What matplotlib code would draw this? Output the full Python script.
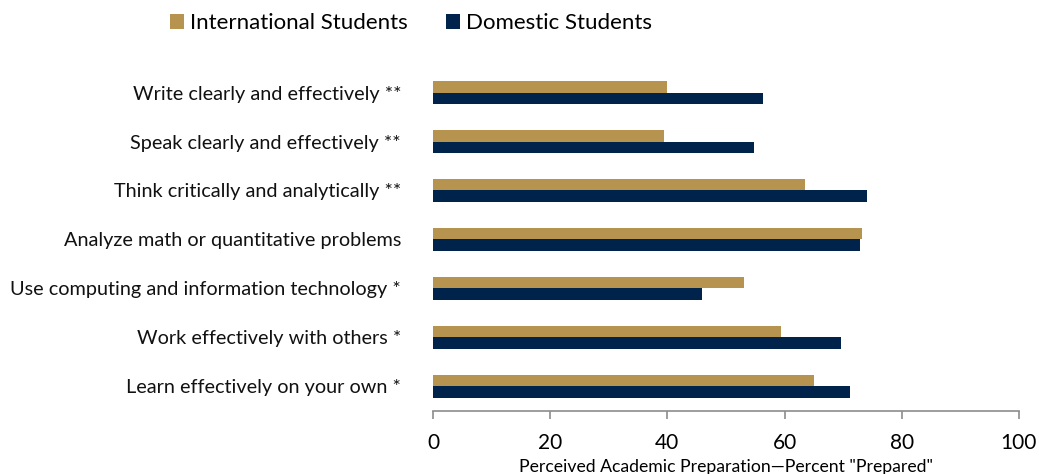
import matplotlib
matplotlib.use("Agg")
from matplotlib import pyplot as plt
import numpy as np

plt.rcParams['font.family'] = ['Lato', 'DejaVu Sans']

# categories listed top to bottom
skills = ["Write clearly and effectively **",
          "Speak clearly and effectively **",
          "Think critically and analytically **",
          "Analyze math or quantitative problems",
          "Use computing and information technology *",
          "Work effectively with others *",
          "Learn effectively on your own *"]
international = [40.0, 39.4, 63.5, 73.2, 53.0, 59.4, 65.1]
domestic = [56.3, 54.8, 74.1, 72.9, 45.9, 69.7, 71.1]
xticks = [0, 20, 40, 60, 80, 100]

gold = "#b79350"
navy = "#00234b"

fig = plt.figure(figsize=(10.39, 4.74), dpi=100)
ax = fig.add_axes([0.4167, 0.133, 0.5640, 0.7235])

y = np.arange(len(skills))[::-1]
h = 0.235
ax.barh(y + h/2, international, height=h, color=gold, label="International Students")
ax.barh(y - h/2, domestic, height=h, color=navy, label="Domestic Students")

ax.set_xlim(0, 100)
ax.set_ylim(-0.5, len(skills) - 0.5)
ax.set_yticks(y)
ax.set_yticklabels(skills, fontsize=14.3, color="#111111")
ax.tick_params(axis="y", length=0, pad=23)
ax.set_xticks(xticks)
ax.tick_params(axis="x", labelsize=15, length=6, width=1.2, color="#8c8c8c", pad=10)

for s in ["top", "right", "left"]:
    ax.spines[s].set_visible(False)
ax.spines["bottom"].set_color("#8c8c8c")
ax.spines["bottom"].set_linewidth(1.2)

ax.set_xlabel('Perceived Academic Preparation\u2014Percent "Prepared"', fontsize=12.7, labelpad=4)

fig.legend(loc="center left", bbox_to_anchor=(0.1636, 0.9515), ncol=2, frameon=False,
           fontsize=16, borderpad=0, borderaxespad=0,
           handlelength=0.65, handleheight=0.65, handletextpad=0.25,
           columnspacing=1.7)

fig.savefig("out.png", dpi=100)
